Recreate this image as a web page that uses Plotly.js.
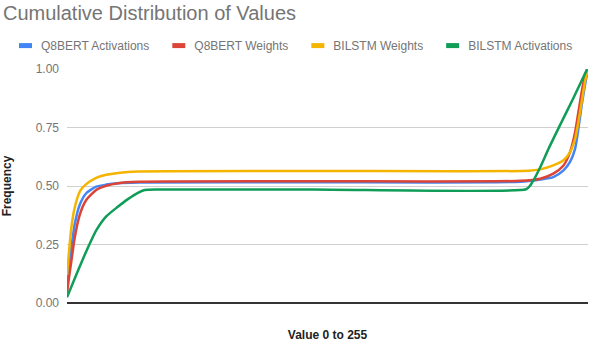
<!DOCTYPE html>
<html>
<head>
<meta charset="utf-8">
<script src="https://cdn.plot.ly/plotly-3.0.1.min.js"></script>
<style>
  body { margin: 0; padding: 0; background: #fff; }
  #chart { width: 590px; height: 342px; }
</style>
</head>
<body>
<div id="chart"></div>
<script>
// values (x = value 0..255, y = cumulative frequency)
var q8bertActX = [0, 1, 2.1, 3.7, 6.2, 9.4, 14.3, 19.2, 25, 35, 120, 222, 231.6, 238, 243, 246.2, 248.7, 250.3, 251.9, 253.5, 255];
var q8bertActY = [0.06, 0.16, 0.234, 0.333, 0.419, 0.469, 0.497, 0.506, 0.512, 0.515, 0.516, 0.518, 0.528, 0.538, 0.567, 0.603, 0.66, 0.745, 0.845, 0.93, 1.0];

var q8bertWtX = [0, 1, 2.1, 3.7, 6.2, 9.4, 14.3, 19.2, 25, 35, 120, 222, 231.6, 238, 243, 246.2, 248.7, 250.3, 251.9, 253.5, 254.8];
var q8bertWtY = [0.041, 0.11, 0.177, 0.276, 0.376, 0.44, 0.483, 0.501, 0.512, 0.518, 0.52, 0.522, 0.531, 0.553, 0.588, 0.645, 0.731, 0.816, 0.902, 0.973, 1.0];

var bilstmWtX = [0, 1, 2.1, 3.7, 6.5, 9.4, 14.3, 19.2, 25, 35, 120, 226, 231.6, 238, 243, 246.2, 248.7, 250.3, 251.9, 253.5, 255];
var bilstmWtY = [0.12, 0.22, 0.32, 0.405, 0.48, 0.508, 0.535, 0.548, 0.556, 0.562, 0.564, 0.565, 0.571, 0.588, 0.61, 0.645, 0.702, 0.774, 0.859, 0.944, 1.0];

var bilstmActX = [0, 4.5, 9.4, 14.3, 19.2, 24.7, 30, 34.5, 38, 45, 120, 224.7, 226.5, 229, 231.6, 236, 241.3, 247.8, 254.6];
var bilstmActY = [0.025, 0.12, 0.22, 0.31, 0.37, 0.41, 0.445, 0.47, 0.483, 0.485, 0.485, 0.486, 0.5, 0.535, 0.58, 0.665, 0.76, 0.875, 1.0];

var yTicks = [0, 0.25, 0.5, 0.75, 1];
var yTickText = ['0.00', '0.25', '0.50', '0.75', '1.00'];

var blue = '#4285f4';
var red = '#db4437';
var yellow = '#f4b400';
var green = '#0f9d58';

function series(x, y, color, name) {
  return {
    x: x,
    y: y,
    mode: 'lines',
    type: 'scatter',
    line: {color: color, width: 2.5, shape: 'spline', smoothing: 0.6},
    name: name
  };
}

var data = [
  series(q8bertActX, q8bertActY, blue, 'Q8BERT Activations'),
  series(q8bertWtX, q8bertWtY, red, 'Q8BERT Weights'),
  series(bilstmWtX, bilstmWtY, yellow, 'BILSTM Weights'),
  series(bilstmActX, bilstmActY, green, 'BILSTM Activations')
];

var layout = {
  width: 590,
  height: 342,
  margin: {l: 66, r: 2, t: 69, b: 39},
  paper_bgcolor: '#fff',
  plot_bgcolor: '#fff',
  font: {family: 'Arial, "Liberation Sans", sans-serif', color: '#757575', size: 12},
  title: {
    text: 'Cumulative Distribution of Values',
    x: 0.005, xref: 'container', xanchor: 'left',
    y: 0.962, yref: 'container', yanchor: 'middle',
    font: {size: 20, color: '#757575'}
  },
  showlegend: true,
  legend: {
    orientation: 'h',
    x: -0.1245, xanchor: 'left',
    y: 1.162, yanchor: 'top',
    font: {size: 12, color: '#757575'},
    itemwidth: 30,
    traceorder: 'normal'
  },
  xaxis: {
    range: [0, 255],
    showticklabels: false,
    showgrid: false,
    zeroline: false,
    showline: false,
    fixedrange: true,
    title: {text: '<b>Value 0 to 255</b>', standoff: 27, font: {size: 12, color: '#222'}}
  },
  yaxis: {
    range: [0, 1],
    tickvals: yTicks,
    ticktext: yTickText,
    gridcolor: '#d0d0d0',
    zeroline: true,
    zerolinecolor: '#333',
    zerolinewidth: 1.5,
    ticklabelstandoff: 7,
    title: {text: '<b>Frequency</b>', standoff: 22, font: {size: 12, color: '#222'}}
  },
  hovermode: false
};

Plotly.newPlot('chart', data, layout, {displayModeBar: false, staticPlot: true}).then(function (gd) {
  // short thick legend keys like the original chart
  gd.querySelectorAll('.legend .legendlines path').forEach(function (p) {
    p.setAttribute('d', 'M18,0h13');
    p.style.strokeWidth = '5px';
  });
});
</script>
</body>
</html>
